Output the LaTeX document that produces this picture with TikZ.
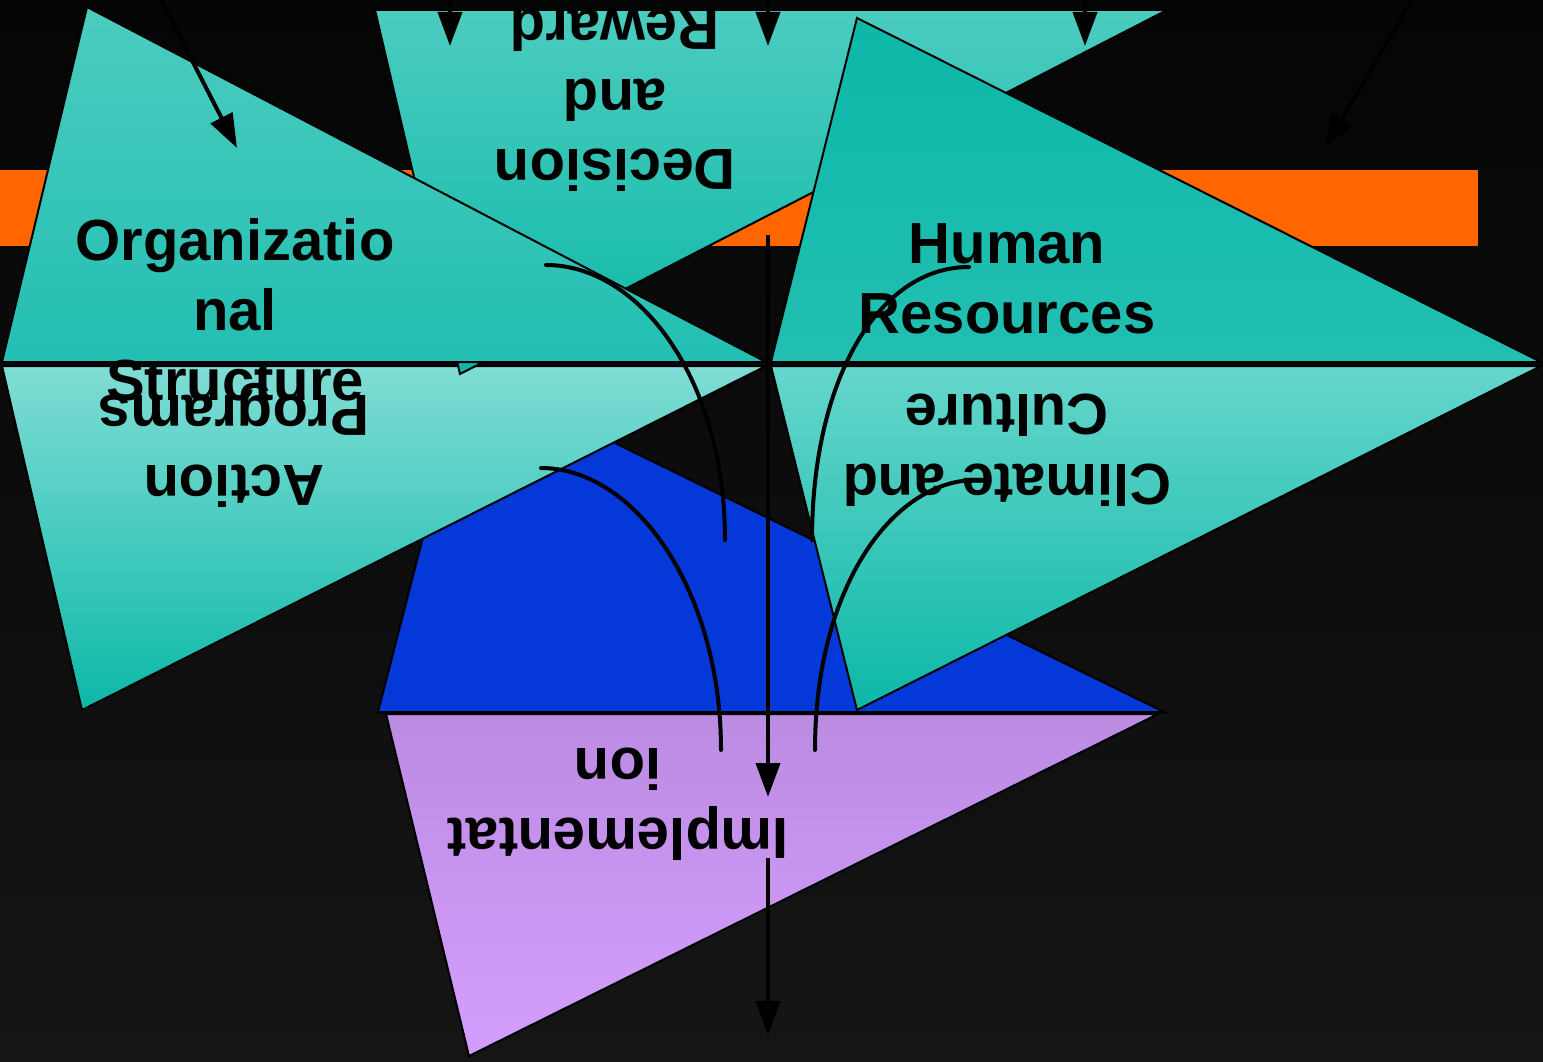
\documentclass[tikz,border=0pt]{standalone}
\usepackage{fontspec}
\setmainfont{Liberation Sans}
\usetikzlibrary{arrows.meta}
\definecolor{bgtop}{HTML}{050505}
\definecolor{bgbot}{HTML}{151515}
\definecolor{orangex}{HTML}{FF6600}
\definecolor{tealhi}{HTML}{4BCCBF}
\definecolor{tealmid}{HTML}{22BFB2}
\definecolor{tealdk}{HTML}{0CB8A8}
\definecolor{tealpale}{HTML}{80DDD5}
\definecolor{tealsoft}{HTML}{66D6CB}
\definecolor{bluex}{HTML}{0538D8}
\definecolor{lilactop}{HTML}{BC8BE2}
\definecolor{lilacbot}{HTML}{D49EFE}
\tikzset{
  tri/.style={draw=black,line width=2pt,line join=miter},
  lbl/.style={font=\fontsize{58}{70}\selectfont\bfseries,align=center,text=black,inner sep=0pt},
  ar/.style={-{Triangle[length=34pt,width=24pt]},line width=4pt,black},
  link/.style={line width=4pt,black,line cap=round}
}
\begin{document}
\begin{tikzpicture}[x=1pt,y=-1pt]
\useasboundingbox (0,0) rectangle (1543,1062);
\shade[top color=bgtop,bottom color=bgbot] (0,0) rectangle (1543,1062);
\fill[orangex] (0,170) rectangle (1478,246);

% lower row
\filldraw[tri,fill=bluex] (466,370) -- (1164,712) -- (378,712) -- cycle;
\shadedraw[tri,top color=tealpale,bottom color=tealdk] (2,366) -- (766,366) -- (82,710) -- cycle;
\shadedraw[tri,top color=tealsoft,bottom color=tealdk] (771,366) -- (1541,366) -- (857,710) -- cycle;
\shadedraw[tri,top color=lilactop,bottom color=lilacbot] (386,714) -- (1158,714) -- (469,1056) -- cycle;

% upper row
\shadedraw[tri,top color=tealhi,bottom color=tealdk] (375,10) -- (1167,10) -- (460,374) -- cycle;
\shadedraw[tri,top color=tealhi,bottom color=tealmid] (87,7) -- (766,362) -- (2,362) -- cycle;
\shadedraw[tri,top color=tealdk,bottom color=tealmid] (857,18) -- (1541,362) -- (771,362) -- cycle;

% labels
\node[lbl] (org) at (235,310) {Organizatio\\nal\\Structure};
\node[lbl,rotate=180] (dec) at (615,100) {Decision\\and\\Reward};
\node[lbl] (hr) at (1007,279) {Human\\Resources};
\node[lbl,rotate=180] (act) at (234,445) {Action\\Programs};
\node[lbl,rotate=180] (clim) at (1007,450) {Climate and\\Culture};
\node[lbl,rotate=180] (impl) at (618,804) {Implementat\\ion};

% arrows
\coordinate (in1) at (450,0);   \coordinate (tip1) at (450,46);
\coordinate (in2) at (768,0);   \coordinate (tip2) at (768,46);
\coordinate (in3) at (1085,0);  \coordinate (tip3) at (1085,46);
\coordinate (inL) at (161,0);   \coordinate (tipL) at (237,148);
\coordinate (inR) at (1412,0);  \coordinate (tipR) at (1325,148);
\coordinate (mid) at (768,235); \coordinate (midtip) at (768,797);
\coordinate (low) at (768,858); \coordinate (lowtip) at (768,1035);
\foreach \a/\b in {in1/tip1,in2/tip2,in3/tip3,inL/tipL,inR/tipR,mid/midtip,low/lowtip}
  \draw[ar] (\a) -- (\b);

% curved links
\coordinate (oa) at (546,265); \coordinate (ob) at (725,540);
\coordinate (ha) at (969,267); \coordinate (hb) at (812,540);
\coordinate (aa) at (541,468); \coordinate (ab) at (721,750);
\coordinate (ca) at (972,480); \coordinate (cb) at (815,750);
\draw[link] (oa) .. controls (640,265) and (725,380) .. (ob);
\draw[link] (ha) .. controls (878,267) and (812,380) .. (hb);
\draw[link] (aa) .. controls (635,468) and (721,590) .. (ab);
\draw[link] (ca) .. controls (890,484) and (815,590) .. (cb);
\end{tikzpicture}
\end{document}
